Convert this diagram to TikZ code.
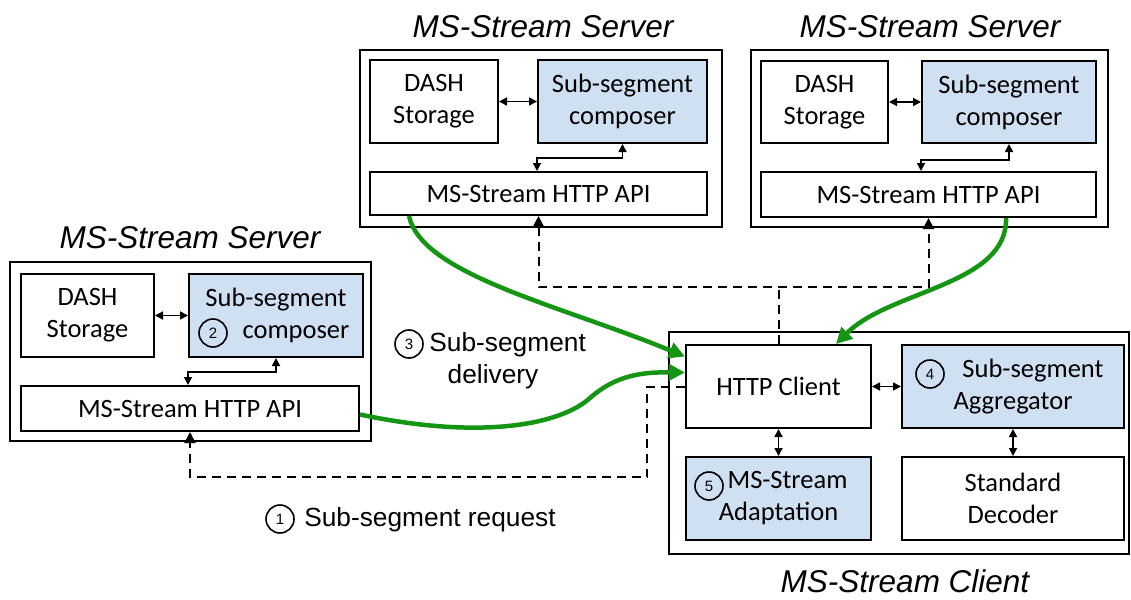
\documentclass[tikz,border=0pt]{standalone}
\usepackage{fontspec}
\setmainfont{Carlito}
\newfontfamily\arialfont{Liberation Sans}
\usetikzlibrary{arrows.meta}
\definecolor{boxblue}{RGB}{207,224,243}
\definecolor{delivgreen}{RGB}{20,150,20}
\begin{document}
\begin{tikzpicture}[x=1pt,y=-1pt,
	box/.style={draw,line width=2pt,inner sep=0pt,align=center,font=\fontsize{26.5}{32}\selectfont},
	hl/.style={box,fill=boxblue},
	frame/.style={draw,line width=2.4pt,inner sep=0pt},
	title/.style={anchor=base,font=\arialfont\itshape\fontsize{31.5}{32}\selectfont},
	stepno/.style={draw,circle,line width=1.6pt,inner sep=0pt,minimum size=28pt,font=\arialfont\fontsize{15}{15}\selectfont},
	bi/.style={line width=1.7pt,{Triangle[length=8pt,width=8pt]}-{Triangle[length=8pt,width=8pt]}},
	req/.style={line width=2pt,dash pattern=on 9pt off 6pt},
	deliv/.style={line width=4.5pt,delivgreen,-{Triangle[length=16pt,width=16pt]}},
	lbl/.style={align=center,font=\arialfont\fontsize{26.3}{32}\selectfont}]
	\useasboundingbox (0,0) rectangle (1131,599);
	\node[frame,minimum width=361,minimum height=179] (lsrv) at (190.5,351.5) {};
	\node[title] (lsrvt) at (190,248) {MS-Stream Server};
	\node[box,minimum width=133,minimum height=83] (ldash) at (87.5,315.5) {DASH\\Storage};
	\node[hl,minimum width=174,minimum height=83] (lcomp) at (276,315.5) {Sub-segment\\\hspace*{40pt}composer};
	\node[box,minimum width=338,minimum height=45] (lapi) at (190,408.5) {MS-Stream HTTP API};
	\node[stepno] (s2) at (213,333) {2};
	\node[frame,minimum width=362,minimum height=177] (msrv) at (541,138.5) {};
	\node[title] (msrvt) at (543,38) {MS-Stream Server};
	\node[box,minimum width=128,minimum height=83] (mdash) at (434,101.5) {DASH\\Storage};
	\node[hl,minimum width=169,minimum height=83] (mcomp) at (622.5,101.5) {Sub-segment\\composer};
	\node[box,minimum width=337,minimum height=43] (mapi) at (538.5,193.5) {MS-Stream HTTP API};
	\node[frame,minimum width=357,minimum height=177] (rsrv) at (929.5,138.5) {};
	\node[title] (rsrvt) at (930,38) {MS-Stream Server};
	\node[box,minimum width=127,minimum height=82] (rdash) at (824.5,102) {DASH\\Storage};
	\node[hl,minimum width=174,minimum height=82] (rcomp) at (1009,102) {Sub-segment\\composer};
	\node[box,minimum width=335,minimum height=45] (rapi) at (928.5,194.5) {MS-Stream HTTP API};
	\node[frame,minimum width=460,minimum height=222] (cli) at (899,443) {};
	\node[title] (clit) at (905,592) {MS-Stream Client};
	\node[box,minimum width=185,minimum height=83] (http) at (778.5,386.5) {HTTP Client};
	\node[hl,minimum width=222,minimum height=83] (agg) at (1013,386.5) {\hspace*{40pt}Sub-segment\\Aggregator};
	\node[hl,minimum width=185,minimum height=83] (adapt) at (778.5,498.5) {\hspace*{18pt}MS-Stream\\Adaptation};
	\node[box,minimum width=222,minimum height=83] (dec) at (1013,498.5) {Standard\\Decoder};
	\node[stepno] (s4) at (930,374) {4};
	\node[stepno] (s5) at (709,486) {5};
	\draw[bi] (ldash) -- (lcomp);
	\draw[bi] (lcomp.south) -- ++(0,14) -| (lapi.north -| lcomp.west);
	\draw[bi] (mdash) -- (mcomp);
	\draw[bi] (mcomp.south) -- ++(0,14) -| (mapi.north -| mcomp.west);
	\draw[bi] (rdash) -- (rcomp);
	\draw[bi] (rcomp.south) -- ++(0,16) -| (rapi.north -| rcomp.west);
	\draw[bi] (http) -- (agg);
	\draw[bi] (http) -- (adapt);
	\draw[bi] (agg) -- (dec);
	\coordinate (lbend) at (647,477);
	\coordinate (tjoin) at (778.5,287);
	\draw[req,-{Triangle[length=11pt,width=11pt]}] (http.west) -| (lbend) -| (lapi.south);
	\draw[req,{Triangle[length=11pt,width=11pt]}-{Triangle[length=11pt,width=11pt]}] (mapi.south) |- (tjoin) -| (rapi.south);
	\draw[req] (http.north) -- (tjoin);
	\draw[deliv] ([xshift=40pt]mapi.south west) .. controls (422,275) and (560,305) .. ([yshift=30pt]http.west);
	\draw[deliv] ([xshift=-91pt]rapi.south east) .. controls (1008,285) and (890,290) .. ([xshift=-36pt]http.north east);
	\draw[deliv] ([yshift=-6pt]lapi.east) .. controls (480,440) and (560,425) .. (590,398) .. controls (615,376) and (640,372) .. ([yshift=14pt]http.west);
	\node[lbl] (dlbl) at (493,361) {\phantom{00}Sub-segment\\delivery};
	\node[stepno] (s3) at (409,344) {3};
	\node[lbl] (rlbl) at (430,520) {Sub-segment request};
	\node[stepno] (s1) at (280,519) {1};
\end{tikzpicture}
\end{document}
